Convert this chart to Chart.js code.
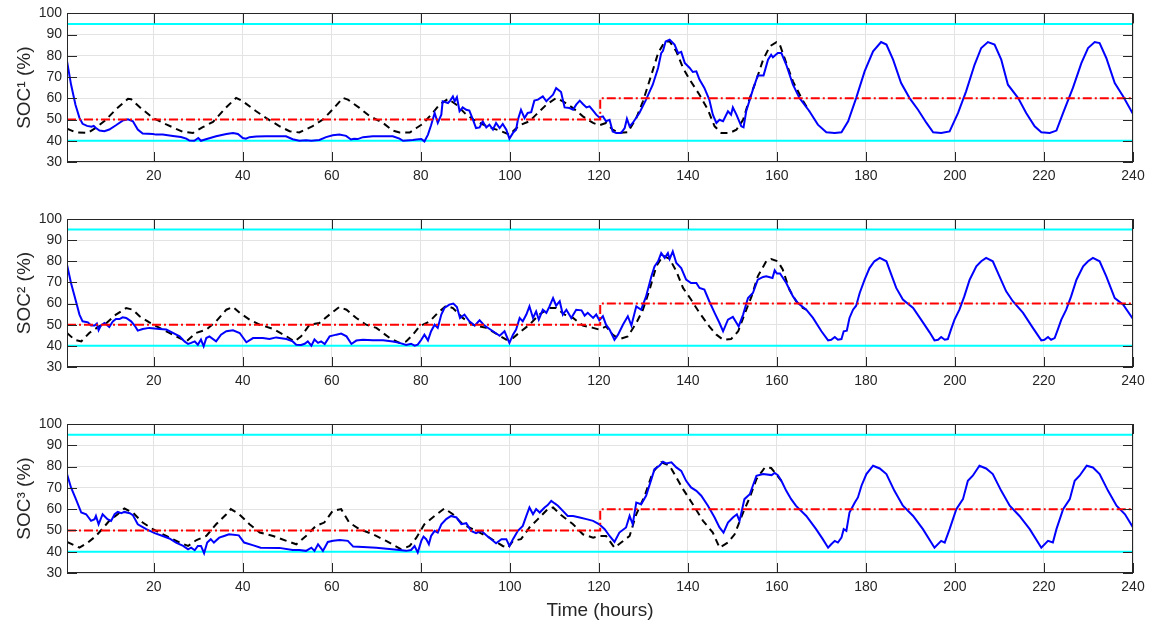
<!DOCTYPE html>
<html lang="en">
<head>
<meta charset="UTF-8">
<title>State of charge</title>
<script src="https://cdn.jsdelivr.net/npm/chart.js"></script>
<style>
  body { margin: 0; background: #fff; }
  .panel { position: absolute; left: 0; width: 1153px; }
</style>
</head>
<body>
<div class="panel" style="top:0;height:200px"><canvas id="soc1"></canvas></div>
<div class="panel" style="top:200px;height:205px"><canvas id="soc2"></canvas></div>
<div class="panel" style="top:405px;height:220px"><canvas id="soc3"></canvas></div>
<script>
// tick labels
const hourTicks = [20, 40, 60, 80, 100, 120, 140, 160, 180, 200, 220, 240];
const socTicks = [30, 40, 50, 60, 70, 80, 90, 100];

// limits and reference schedule [hour, %]
const socMax = [[0.5, 95], [240, 95]];
const socMin = [[0.5, 40], [240, 40]];
const socTarget = [[0.5, 50], [120.3, 50], [120.3, 60], [240, 60]];

// unit 1
const soc1Actual = [[0.5,77.5],[1.4,66.6],[2.4,57],[3.3,50.8],[4,48],[5,47],[6,46.6],[6.5,47],[7,46],[7.8,44.8],[8.9,44.5],[10,45.3],[11.5,47.3],[13,49.5],[14.2,50.1],[15.3,49.2],[16.4,45.3],[17.5,43.4],[19.8,43.2],[20.5,42.9],[22,42.9],[24.3,42.3],[26.1,41.8],[27.3,41],[28,40.1],[29.1,40],[30,41.3],[30.6,40],[31.7,40.7],[34,42.1],[36.3,43.2],[37.8,43.7],[38.9,43.2],[40,41.3],[40.7,41],[41.5,41.7],[43,42],[45.2,42.1],[49.7,42.1],[51.2,40.7],[52.7,40],[54.2,40.3],[55.4,40],[57.2,40.4],[58.7,41.7],[60.2,42.6],[61.7,43],[63.2,42.3],[64.3,40.6],[65,40.9],[65.8,40.8],[67,41.7],[69.2,42.1],[73.7,42.1],[75.2,41],[76,40],[78.2,40.4],[79,40.6],[80.1,40.8],[80.8,39.7],[81.6,42.9],[82.3,47.3],[83.1,53.1],[83.8,48.4],[84.6,52.3],[84.9,58.6],[86.1,57.8],[86.6,58.9],[87.2,60.9],[87.6,58.6],[88.1,60.5],[88.7,53.9],[89.4,55.7],[90.2,54.6],[90.9,54.2],[91.7,50],[92.4,46],[93.2,46.3],[93.9,49.2],[94.7,46.3],[95.4,47.6],[96.2,45.3],[96.9,48.4],[97.7,46],[98.4,47.9],[99.2,45.2],[99.9,41],[100.7,43.7],[101.4,45.2],[101.8,49.9],[102.5,54.6],[103.3,50.7],[104,53.1],[104.8,53.5],[105.5,58.9],[106.3,59.4],[107.4,60.9],[108.2,58.6],[108.9,60.1],[109.7,61.7],[110.4,64.8],[111.5,63],[112.3,55.7],[113.4,55.4],[114.2,54.6],[114.9,57],[115.7,58.9],[116.4,57.3],[117.2,55.7],[117.9,56.2],[118.7,54.2],[119.4,52.3],[120.1,51],[120.9,51.5],[121.6,49.2],[122.4,49.9],[123.1,44.4],[123.9,43.7],[125,43.7],[125.8,46],[126.3,50.4],[126.9,46.8],[127.6,48.4],[129.1,53.1],[130.6,59.4],[132.1,66.4],[133.3,74.3],[134,81.3],[134.4,82.4],[135,86.8],[135.9,87.6],[137,85.3],[137.8,81.3],[138.5,81.9],[139.3,76.6],[140.4,74.3],[141.1,72.4],[141.9,72.7],[142.6,68.8],[143.7,64.9],[144.8,59.4],[145.6,52.3],[146.4,48.4],[147.1,49.9],[147.9,49.2],[149,53.9],[149.7,52.3],[150.1,55.7],[150.9,52.3],[152,46.8],[152.5,46.3],[153.1,53.9],[154.6,64.1],[155.7,70.8],[157,70.8],[158,78.2],[158.7,80.5],[159.1,79.3],[160.2,81.3],[161,81.3],[162.1,75.8],[163.6,66.4],[165.1,60.1],[167.3,53.9],[169.2,47.6],[171.1,44],[173,43.7],[174.5,44],[176,49.2],[177.8,60.1],[179.7,72.7],[181.6,82.1],[183.4,86.5],[184.6,85.3],[186.1,78.2],[187.9,67.2],[189.8,60.1],[191.7,54.6],[193.6,48.4],[195.1,44],[196.9,43.7],[198.8,44.4],[200.7,53.1],[202.5,63.3],[204.4,75.8],[205.9,83.7],[207.4,86.5],[208.9,85.3],[210.4,78.2],[211.9,66.4],[214.2,60.1],[216,53.1],[217.9,46.8],[219.4,44],[221.3,43.7],[222.8,44.8],[224.3,53.1],[226.5,64.9],[228.4,76.6],[229.9,83.7],[231.4,86.5],[232.5,86],[234,79],[235.9,67.2],[237.8,60.9],[240,52.6]];
const soc1Forecast = [[0.5,45.7],[2.5,43.9],[5.2,43.7],[7,46.1],[9.3,50],[11.5,54.8],[14.2,59.8],[14.9,59.6],[16.8,55.9],[19.8,50.8],[22.8,47.7],[26.5,44.2],[28.8,43.7],[31,46.4],[33.3,48.9],[36.3,55.8],[38.5,60.2],[40,58.6],[43,53.9],[45.2,50.8],[48.2,46.9],[50.5,44.5],[52.7,43.9],[55.7,46.9],[58,50],[60.2,54.8],[62.5,60.2],[63.6,59.4],[66.2,55.5],[68.5,51.6],[71.5,48.4],[73.7,44.8],[75.2,43.9],[77.5,43.9],[79,46],[80.4,47.9],[82.3,52.3],[84.2,57],[86.1,59.7],[88,57],[90.2,52.3],[92.4,49.2],[95.4,46.3],[97.7,44.8],[99.9,42.9],[102.2,47.3],[104.4,49.2],[105.9,52.3],[108.2,57],[110.4,60.1],[111.9,58.6],[114.2,55.4],[116.4,51.5],[118.7,48.4],[120.1,47.3],[121.6,48.4],[123.1,45.2],[124.6,43.7],[126.5,44],[128.4,50.7],[129.9,58.6],[131.8,71.1],[133.3,81.3],[134.8,86.8],[135.9,86.8],[137.4,82.1],[138.9,74.3],[140.4,68.8],[142.6,61.7],[144.5,54.6],[146,46.8],[147.5,43.7],[149.4,43.7],[150.9,45.2],[152.4,49.9],[153.9,60.1],[155.4,68.8],[156.9,78.2],[158.4,84.5],[159.9,86.5],[160.6,85.6],[162.1,76.6],[163.6,68],[165.5,60.1],[167.3,53.9]];

// unit 2
const soc2Actual = [[0.5,78.4],[1.4,69.7],[2.4,61.9],[3.3,54.8],[4,51.6],[5.2,51.1],[5.9,49.6],[6.7,49.6],[7.2,50.5],[7.6,47.4],[8.1,49.6],[8.9,50.8],[9.6,49.6],[10,48.9],[10.8,51.6],[11.5,52.7],[12.3,52.7],[13,53.5],[13.8,53.2],[14.9,51.6],[15.7,49.6],[16.4,47.2],[17.5,48],[19,48.5],[21.3,48],[22.8,47.7],[24.3,46.1],[25.8,44.5],[26.9,42.1],[27.7,40.9],[28.4,41.4],[29.2,42.1],[29.9,40.5],[30.6,43],[31.2,39.8],[31.8,43.7],[32.5,44.5],[34,42.1],[35.1,45.3],[36.3,46.9],[37.8,47.4],[39.3,46.1],[40.8,41.7],[42.3,43.7],[44.5,43.7],[46,43.2],[47.5,44],[49.8,43.2],[51.2,42.1],[52,40.5],[53.1,40.4],[53.9,41],[54.6,42.1],[55.4,40.1],[56.1,43],[56.9,41.4],[57.6,42.1],[58.4,40.9],[59.5,44.5],[61,45.3],[62.1,45.8],[63.3,44.5],[64.4,40.9],[65.5,42.5],[67,42.9],[69.2,42.6],[71.5,42.6],[73.7,42.1],[75.2,41.4],[76.7,40.4],[77.8,41],[78.6,40.1],[79.3,40.6],[80.1,42.9],[80.8,45.3],[81.6,42.6],[82.3,46.9],[83.1,50],[83.8,48.5],[84.6,54.8],[85.3,57.9],[86.4,59.5],[87.3,60],[88.1,58.4],[88.8,53.2],[89.8,54.8],[90.9,51.6],[92.1,49.6],[93.2,52.1],[94.3,49.6],[96.2,46.9],[97.7,44.8],[98.8,46.9],[99.9,41.4],[100.7,45.3],[101.4,47.7],[102.2,53.2],[102.9,51.6],[103.7,54.8],[104.4,58.7],[105.2,53.2],[105.9,56.3],[106.5,52.4],[107.4,57.1],[108.2,55.6],[108.9,58.7],[109.7,62.6],[110.4,59],[111.2,61.1],[111.9,54.8],[112.7,57.1],[113.8,53.2],[114.9,57.1],[116.1,56.8],[116.8,54.3],[117.5,55.6],[118.7,53.2],[119.4,54.8],[120.1,52.1],[120.9,54],[121.6,50],[122.4,47.7],[123.5,42.9],[124.3,45.3],[125.4,50],[126.5,54],[127.3,49.6],[128.4,58.7],[129.5,57.1],[130.6,63.4],[131.8,72.9],[132.5,77.6],[133.3,80],[134,83.9],[134.8,81.6],[135.5,83.9],[135.9,81.1],[136.6,84.7],[137.4,79.2],[138.5,76.8],[139.6,71.3],[140.7,69.7],[141.9,69.7],[142.6,67.4],[143.7,66.6],[144.8,61.1],[146,55.6],[147.1,50.8],[147.9,46.9],[149,52.4],[150.1,53.7],[150.7,51.6],[151.4,49.2],[152.4,54.8],[153.5,62.6],[154.6,65],[155.7,71.3],[156.9,72.6],[157.6,72.9],[159,72.1],[159.5,75.7],[160,74.2],[160.7,74.2],[162.1,69.7],[163.6,63.4],[164.7,60.3],[166.6,57.1],[168.1,53.2],[170,46.9],[171.5,42.6],[172.2,42.9],[173,44.2],[173.7,42.9],[174.5,43.2],[175,46.9],[175.7,47.2],[176.3,53.2],[177.1,57.1],[177.8,59],[178.6,65],[179.7,71.3],[180.8,76.8],[181.9,80],[183.1,81.6],[184.6,80],[185.7,73.7],[186.8,67.4],[188.3,61.9],[190.6,57.9],[192.8,51.1],[194.3,46.4],[195.4,42.6],[196.2,42.9],[196.9,44.2],[197.7,42.9],[198.4,43.2],[199.1,47.7],[199.9,52.4],[201,57.1],[202.1,63.4],[203.3,71.3],[204.8,77.6],[205.9,80],[207,81.6],[208.5,80],[210,72.9],[211.5,65.8],[213,61.1],[215.3,55.6],[217.5,48.5],[219.4,42.6],[220.1,42.9],[220.9,44.2],[221.6,42.9],[222.4,43.7],[223.1,47.7],[223.9,52.4],[225,57.1],[226.1,63.4],[227.3,71.3],[228.8,77.6],[229.9,80],[231,81.6],[232.5,80],[234,72.9],[235.9,62.6],[237.8,59.5],[240,52.7]];
const soc2Forecast = [[0.5,46.1],[2.2,42.9],[3.7,42.1],[5.5,46.1],[7.7,49.2],[9.2,50.5],[11.5,54.8],[13.8,57.9],[15.3,57.1],[16.8,54],[19,51.1],[21.3,48.5],[23.5,46.1],[25.8,43.7],[27.3,42.1],[29.5,46.1],[31.8,47.7],[34,51.6],[36.3,57.1],[37.8,58.4],[39.3,55.6],[41.5,52.4],[43.8,50],[46.8,48],[49.8,44.5],[51.6,42.1],[53.1,44.5],[55,50],[57.2,50.8],[59.5,54.8],[61.7,58.4],[63.3,57.1],[65.5,53.2],[67.7,50],[70,48.5],[73,43.7],[75.2,41.4],[76.7,42.1],[78.2,45.3],[79.7,49.2],[82,51.6],[83.8,55.6],[85.7,59],[87.2,57.9],[89.4,53.2],[91.7,50],[94.7,48.5],[96.9,45.8],[99.2,42.9],[100.7,43.7],[102.5,46.9],[104.4,50],[106.6,54.8],[108.9,57.9],[110.4,57.9],[112.3,54.8],[114.2,53.2],[116.4,49.6],[118.7,48.5],[120.1,47.7],[121.6,49.2],[123.1,45.3],[124.6,43.2],[126.5,44.5],[128.4,50.8],[129.9,57.1],[131.4,66.6],[132.9,77.6],[134.4,82.7],[135.9,81.1],[137.4,75.3],[138.9,67.4],[140.7,61.9],[142.6,55.6],[144.8,49.2],[146.4,45.3],[147.9,42.9],[149.7,43.2],[151.3,46.9],[152.7,54.8],[154.3,63.4],[155.7,72.9],[157.6,80],[158.7,81.1],[160.2,80],[161.3,76.1],[162.8,66.6],[164.3,61.1],[165.8,57.9],[166.6,57.1]];

// unit 3
const soc3Actual = [[0.5,76.5],[1.4,70.2],[2.5,64.7],[3.7,58.4],[4.8,57.6],[5.9,54.5],[6.7,55.3],[7,56.8],[7.6,52.9],[8.5,57.6],[9.6,55.3],[10.4,54.5],[11.2,57.6],[11.9,58.7],[12.7,58.1],[13.4,58.7],[14.6,58.1],[15.3,57.2],[16.4,52.9],[18.3,50.6],[20.2,48.7],[22,47.4],[23.5,46.2],[25,44.3],[26.6,42.7],[27.7,41.1],[28.4,41.9],[29.2,40.7],[29.9,42.7],[30.6,42.7],[31.3,39.3],[32,44.3],[32.8,45.9],[33.5,44.3],[34.7,46.6],[35.8,47.4],[36.9,48.2],[39.1,47.7],[40.3,44.3],[42.2,43.1],[44,41.9],[48.2,41.8],[51.2,40.8],[52.7,40.8],[54.2,40.4],[55.4,41.9],[56.1,40.4],[56.9,43.5],[58,40.4],[59.1,44.6],[60.3,45.1],[61.8,45.5],[63.6,45.1],[64.8,42.4],[67,42.2],[70,41.9],[75.2,40.8],[76.7,40.4],[77.8,40.8],[78.6,42.7],[79.3,39.6],[80.1,45.1],[80.6,47.1],[81.2,45.9],[81.8,43.5],[82.3,47.4],[83.1,49.8],[83.8,49],[84.6,52.9],[85.7,55.3],[86.8,56.8],[88,56.1],[89.1,52.9],[90.2,53.4],[91.3,49.8],[92.4,48.7],[93.6,49.8],[94.7,47.7],[96.9,44],[98.1,45.9],[99.2,45.9],[99.9,42.7],[100.7,45.9],[101.8,49.8],[102.9,52.1],[103.7,56.8],[104.4,60.8],[105.2,57.6],[105.9,60],[106.7,58.4],[107.8,60.8],[108.5,61.9],[109.3,63.9],[110,62.8],[110.8,61.6],[111.9,59.2],[113,56.8],[114.2,56.8],[115.7,56.1],[117.2,55.3],[118.7,54.5],[120.1,52.9],[121.3,50.6],[122.4,47.4],[123.5,44.6],[124.6,49],[126.1,51.4],[126.9,56.8],[127.6,52.9],[128.4,63.1],[129.5,62.3],[130.6,66.3],[131.8,74.1],[132.5,78.8],[133.6,80.4],[134.4,82.3],[135.1,81.5],[136.3,82],[137.4,79.6],[138.5,78],[139.6,73.3],[140.7,70.2],[141.9,68.6],[143,66.3],[144.5,61.6],[146,56.1],[147.1,51.4],[148,49],[149,53.7],[150.1,56.1],[151,57.6],[151.6,54.5],[152.7,64.7],[153.9,67],[155.4,75.7],[156.9,76.5],[158.8,76],[159.5,77],[160.2,76],[161,73.3],[162.1,68.6],[163.2,64.7],[164.3,61.5],[166.6,56.8],[168.8,50.6],[170.3,45.9],[171.5,41.9],[172.2,43.5],[173,45.1],[173.7,44.3],[174.5,46.6],[175,50.6],[175.6,49.8],[176.3,58.4],[177.5,63.1],[178.2,65.5],[179,71],[180.1,76.5],[181.6,80.4],[183.1,79.1],[184.6,76.5],[186.4,68.6],[188.3,61.6],[190.6,56.8],[192.8,50.6],[195.4,41.9],[196.9,45.1],[197.7,44.3],[198.8,50.6],[200.3,60],[201.8,64.7],[202.9,73.3],[204,75.7],[205.5,80.4],[207,79.1],[208.5,76.5],[210.4,68.6],[212.3,61.6],[214.5,56.8],[216.8,50.6],[219.4,41.9],[220.9,45.1],[222,44.3],[222.8,50.6],[224.3,60],[225.8,64.7],[226.9,73.3],[228,75.7],[229.6,80.4],[231,79.6],[232.5,76.5],[234.4,68.6],[236.3,61.6],[238.2,57.6],[240,51.4]];
const soc3Forecast = [[0.5,44.6],[3.3,41.9],[5.2,44.3],[7,47.4],[8.5,50.9],[10,54.5],[11.9,57.6],[13.4,60.3],[15.3,58.4],[17.5,53.7],[19.8,50.6],[22.8,47.4],[25.8,44.3],[27.7,42.7],[29.6,45.5],[31.8,47.4],[34,52.9],[36.3,57.6],[37.3,60],[39.2,57.6],[41.5,52.9],[43.8,49],[46.8,47.4],[49.8,45.1],[52,43.5],[54.2,47.4],[56.4,52.1],[58.3,53.7],[60.2,59.2],[62.1,60],[63.9,53.7],[66.2,50.6],[69.2,48.2],[72.2,45.1],[75.6,41.1],[77.5,42.7],[79,46.6],[80.8,52.9],[83.1,56.8],[85.3,60.3],[87.2,57.6],[89.4,52.9],[92.4,49.8],[95.4,46.6],[98.4,42.7],[99.6,41.9],[100.7,45.1],[102.5,45.9],[104.4,51.4],[106.3,55.3],[108.5,60],[109.7,60.8],[111.5,57.2],[114.2,52.9],[116.4,48.2],[118.7,46.6],[120.1,47.4],[121.6,47.4],[123.5,41.9],[125,44.3],[126.9,47.4],[128.4,57.6],[130.3,66.3],[132.1,77.3],[134,82],[135.9,80.4],[137.4,74.9],[138.9,69.4],[141.1,62.3],[143.4,54.5],[145.6,49],[147.1,41.9],[149,44.3],[150.5,48.2],[152.4,58.4],[153.9,65.5],[155.4,74.1],[157.3,79.6],[158.7,79.3],[159.8,76.5],[161,73.3]];

const FONT = 'Liberation Sans, Arial, Helvetica, sans-serif';
const INK = '#262626';

const pts = arr => arr.map(([x, y]) => ({ x, y }));

// axes box with inward tick marks on all four sides
const boxTicks = {
  id: 'boxTicks',
  afterDatasetsDraw(chart) {
    const { ctx, chartArea: a, scales: { x, y } } = chart;
    const len = 10;
    ctx.save();
    ctx.strokeStyle = INK;
    ctx.lineWidth = 1;
    ctx.beginPath();
    x.ticks.forEach(t => {
      const px = Math.round(x.getPixelForValue(t.value)) + 0.5;
      ctx.moveTo(px, a.bottom); ctx.lineTo(px, a.bottom - len);
      ctx.moveTo(px, a.top); ctx.lineTo(px, a.top + len);
    });
    y.ticks.forEach(t => {
      const py = Math.round(y.getPixelForValue(t.value)) + 0.5;
      ctx.moveTo(a.left, py); ctx.lineTo(a.left + len, py);
      ctx.moveTo(a.right, py); ctx.lineTo(a.right - len, py);
    });
    ctx.stroke();
    ctx.strokeRect(Math.round(a.left) + 0.5, Math.round(a.top) + 0.5,
                   Math.round(a.width) - 1, Math.round(a.height) - 1);
    ctx.restore();
  }
};

function makeChart(id, actual, forecast, yLabel, padTop, axisH, xLabel) {
  new Chart(document.getElementById(id), {
    type: 'line',
    data: {
      datasets: [
        { data: pts(socTarget), borderColor: '#ff0000', borderWidth: 2, borderDash: [9, 3, 2, 3] },
        { data: pts(actual), borderColor: '#0000ff', borderWidth: 2 },
        { data: pts(forecast), borderColor: '#000000', borderWidth: 2, borderDash: [7, 5] },
        { data: pts(socMax), borderColor: '#00ffff', borderWidth: 2 },
        { data: pts(socMin), borderColor: '#00ffff', borderWidth: 2 }
      ]
    },
    options: {
      responsive: true,
      maintainAspectRatio: false,
      animation: false,
      elements: { point: { radius: 0 }, line: { tension: 0 } },
      layout: { padding: { top: padTop, right: 20, left: 0, bottom: 0 } },
      plugins: { legend: { display: false }, tooltip: { enabled: false } },
      scales: {
        x: {
          type: 'linear', min: 0.5, max: 240,
          afterBuildTicks: s => { s.ticks = hourTicks.map(v => ({ value: v })); },
          afterFit: s => { s.height = axisH; },
          grid: { color: '#e3e3e3', drawTicks: false },
          border: { display: false },
          ticks: { padding: 6, color: INK, maxRotation: 0, autoSkip: false, font: { family: FONT, size: 14 } },
          title: {
            display: !!xLabel, text: xLabel || '', color: INK,
            font: { family: FONT, size: 19 }, padding: { top: 0, bottom: 3 }
          }
        },
        y: {
          min: 30, max: 100,
          afterBuildTicks: s => { s.ticks = socTicks.map(v => ({ value: v })); },
          afterFit: s => { s.width = 67; },
          grid: { color: '#e3e3e3', drawTicks: false },
          border: { display: false },
          ticks: { padding: 5, color: INK, font: { family: FONT, size: 14 } },
          title: {
            display: true, text: yLabel, color: INK,
            font: { family: FONT, size: 19 }, padding: { top: 13.5, bottom: 0 }
          }
        }
      }
    },
    plugins: [boxTicks]
  });
}

makeChart('soc1', soc1Actual, soc1Forecast, 'SOC\u00b9 (%)', 13, 38);
makeChart('soc2', soc2Actual, soc2Forecast, 'SOC\u00b2 (%)', 19, 38);
makeChart('soc3', soc3Actual, soc3Forecast, 'SOC\u00b3 (%)', 19, 52, 'Time (hours)');
</script>
</body>
</html>
